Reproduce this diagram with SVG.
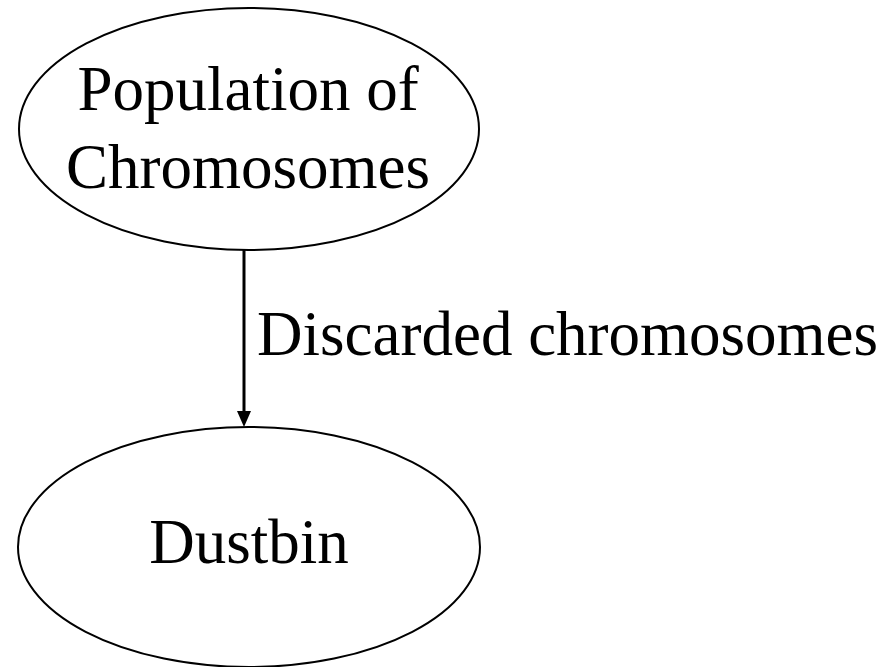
<svg xmlns="http://www.w3.org/2000/svg" width="893" height="667" viewBox="0 0 893 667">
<style>
.node{fill:#fff;stroke:#000;stroke-width:2}
.lbl{font-family:"Liberation Serif","Times New Roman",serif;font-size:63px;fill:#000}
.edge{stroke:#000;stroke-width:3;fill:none}
</style>
<defs>
<marker id="arrow" markerWidth="10" markerHeight="10" refX="8" refY="4" orient="auto" markerUnits="userSpaceOnUse" viewBox="0 0 8 8">
<path d="M0,0 L8,4 L0,8 z" fill="#000"/>
</marker>
</defs>
<rect width="893" height="667" fill="#fff"/>
<g id="connectors">
<line class="edge" x1="244" y1="250" x2="244" y2="412"/>
<path d="M237,411 L251,411 L244,427 z" fill="#000"/>
<text class="lbl" x="257" y="355">Discarded chromosomes</text>
</g>
<g id="population">
<ellipse class="node" cx="249" cy="129" rx="230" ry="121"/>
<text class="lbl" x="248" y="110" text-anchor="middle">Population of</text>
<text class="lbl" x="248" y="188" text-anchor="middle">Chromosomes</text>
</g>
<g id="dustbin">
<ellipse class="node" cx="249" cy="547" rx="231" ry="120"/>
<text class="lbl" x="249" y="563" text-anchor="middle">Dustbin</text>
</g>
</svg>
